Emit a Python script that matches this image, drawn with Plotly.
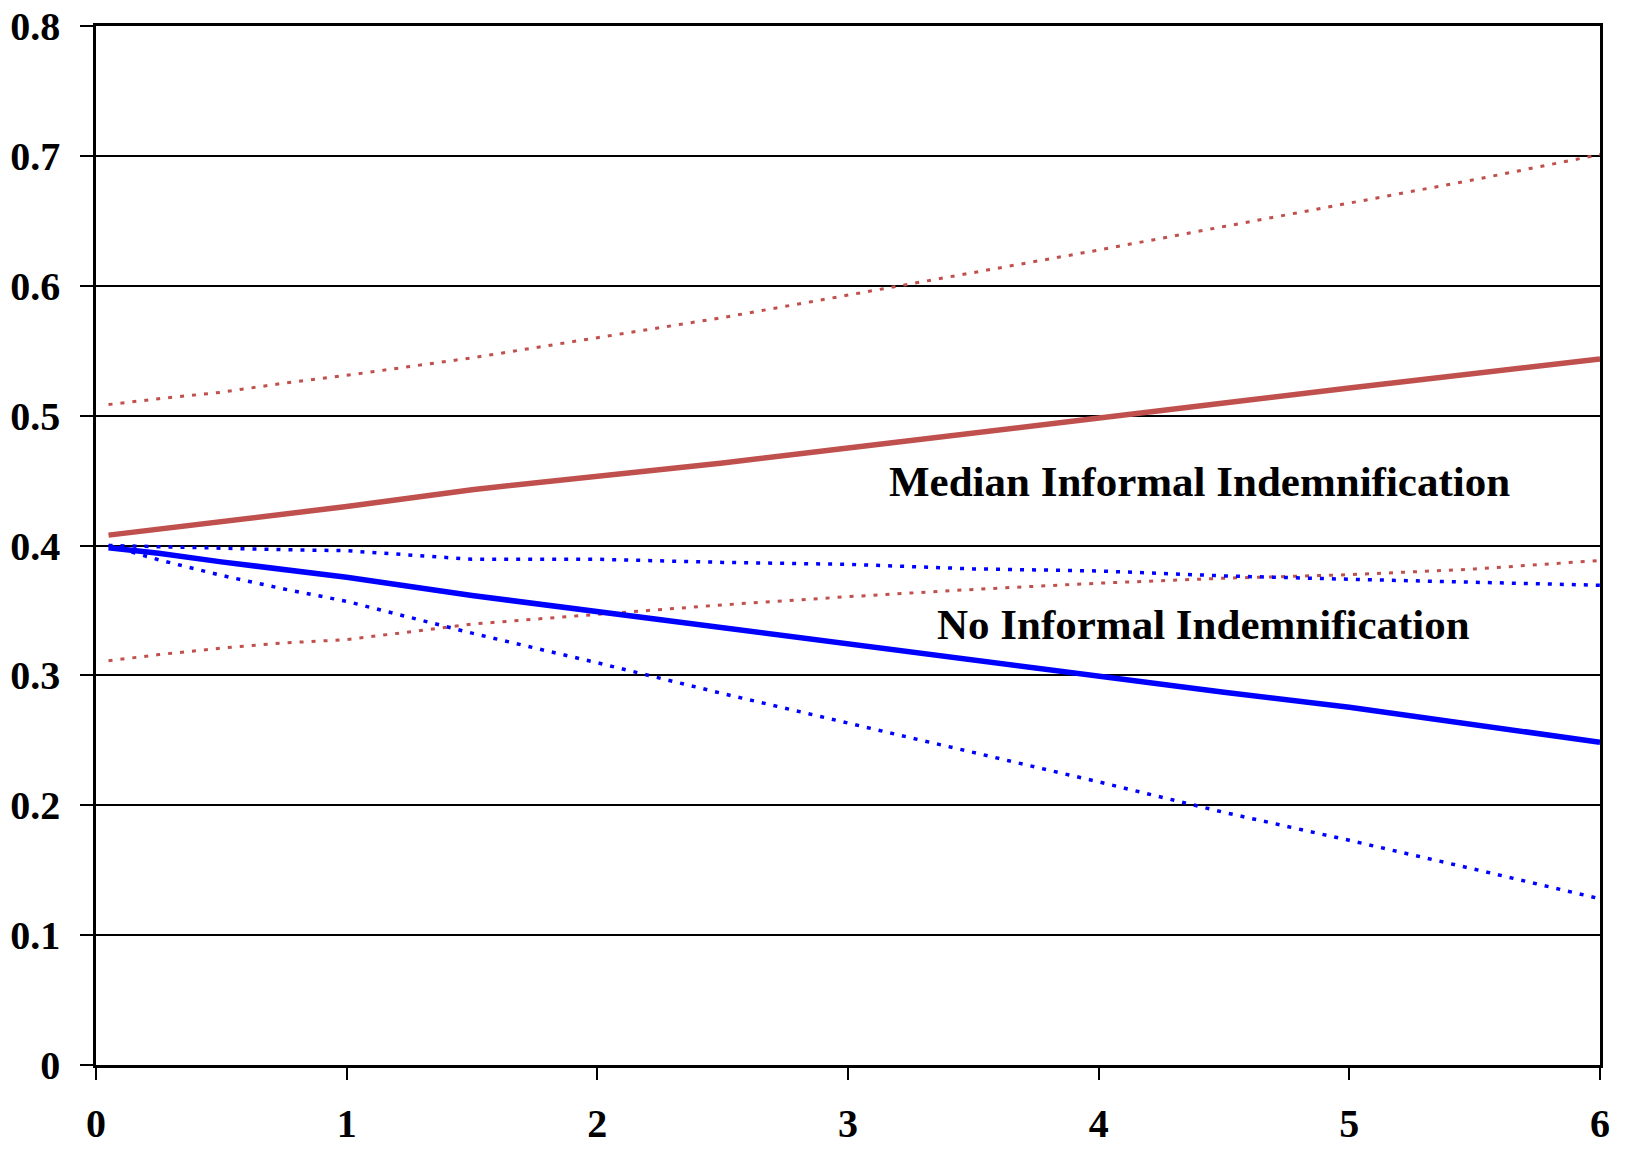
import plotly.graph_objects as go

# Shared x positions (horizontal axis values)
x_vals = [0.05, 0.25, 0.5, 0.75, 1.0, 1.5, 2.0, 2.5, 3.0, 3.5, 4.0, 4.5, 5.0, 5.5, 6.0]

# Median informal indemnification (red)
median_mid = [0.408, 0.4125, 0.419, 0.424, 0.430, 0.443, 0.4528, 0.4636, 0.475, 0.4863,
              0.4985, 0.5098, 0.5213, 0.5325, 0.5437]
median_upper = [0.5085, 0.513, 0.518, 0.525, 0.531, 0.5445, 0.560, 0.5755, 0.5928, 0.610,
                0.6275, 0.6456, 0.6636, 0.6817, 0.701]
median_lower = [0.3112, 0.316, 0.321, 0.325, 0.3275, 0.3395, 0.347, 0.3543, 0.3606, 0.3662,
                0.371, 0.3748, 0.3775, 0.3819, 0.3885]

# No informal indemnification (blue)
none_mid = [0.3983, 0.394, 0.3874, 0.381, 0.3755, 0.3615, 0.349, 0.3365, 0.3243, 0.312,
            0.2995, 0.287, 0.2755, 0.2624, 0.2485]
none_upper = [0.400, 0.399, 0.3975, 0.3968, 0.396, 0.3894, 0.3894, 0.387, 0.3855, 0.382,
              0.3804, 0.3766, 0.374, 0.3715, 0.3694]
none_lower = [0.400, 0.389, 0.377, 0.3665, 0.357, 0.3325, 0.3097, 0.286, 0.2633, 0.2406,
              0.218, 0.1945, 0.173, 0.1507, 0.128]

x_ticks = [0, 1, 2, 3, 4, 5, 6]
y_ticks = [0, 0.1, 0.2, 0.3, 0.4, 0.5, 0.6, 0.7, 0.8]
y_tick_text = ["0", "0.1", "0.2", "0.3", "0.4", "0.5", "0.6", "0.7", "0.8"]

label_median = "Median Informal Indemnification"
label_none = "No Informal Indemnification"

RED = "#C0504D"
BLUE = "#0000FF"
FONT = "Liberation Serif, Times New Roman, serif"

fig = go.Figure()
fig.add_trace(go.Scatter(x=x_vals, y=median_upper, mode="lines",
                         line=dict(color=RED, width=3, dash="4px,8px")))
fig.add_trace(go.Scatter(x=x_vals, y=median_lower, mode="lines",
                         line=dict(color=RED, width=3, dash="4px,8px")))
fig.add_trace(go.Scatter(x=x_vals, y=none_upper, mode="lines",
                         line=dict(color=BLUE, width=3.5, dash="4px,8px")))
fig.add_trace(go.Scatter(x=x_vals, y=none_lower, mode="lines",
                         line=dict(color=BLUE, width=3.5, dash="4px,8px")))
fig.add_trace(go.Scatter(x=x_vals, y=median_mid, mode="lines",
                         line=dict(color=RED, width=5.5)))
fig.add_trace(go.Scatter(x=x_vals, y=none_mid, mode="lines",
                         line=dict(color=BLUE, width=5.5)))

fig.add_annotation(x=4.404, y=0.449, text=label_median, showarrow=False,
                   xanchor="center", yanchor="middle",
                   font=dict(family=FONT, size=43, color="black", weight="bold"))
fig.add_annotation(x=4.42, y=0.3395, text=label_none, showarrow=False,
                   xanchor="center", yanchor="middle",
                   font=dict(family=FONT, size=43, color="black", weight="bold"))

fig.update_layout(
    width=1627, height=1152,
    margin=dict(l=96, r=27, t=26, b=87),
    paper_bgcolor="white", plot_bgcolor="white",
    showlegend=False,
    font=dict(family=FONT, color="black"),
)
fig.update_xaxes(
    range=[0, 6], tickvals=x_ticks, ticktext=[str(v) for v in x_ticks],
    automargin=False,
    showgrid=False, zeroline=False,
    showline=True, linecolor="black", linewidth=2.5, mirror=True,
    ticks="outside", ticklen=12, tickwidth=2, tickcolor="black",
    ticklabelstandoff=9,
    tickfont=dict(family=FONT, size=40, color="black", weight="bold"),
)
fig.update_yaxes(
    range=[0, 0.8], tickvals=y_ticks, ticktext=y_tick_text,
    automargin=False,
    showgrid=True, gridcolor="black", gridwidth=2,
    zeroline=False,
    showline=True, linecolor="black", linewidth=2.5, mirror=True,
    ticks="outside", ticklen=13, tickwidth=2, tickcolor="black",
    ticklabelstandoff=12,
    tickfont=dict(family=FONT, size=40, color="black", weight="bold"),
)

fig.write_html("out.html",
               config={"displayModeBar": False},
               post_script="document.body.style.margin='0';document.body.style.overflow='hidden';")
